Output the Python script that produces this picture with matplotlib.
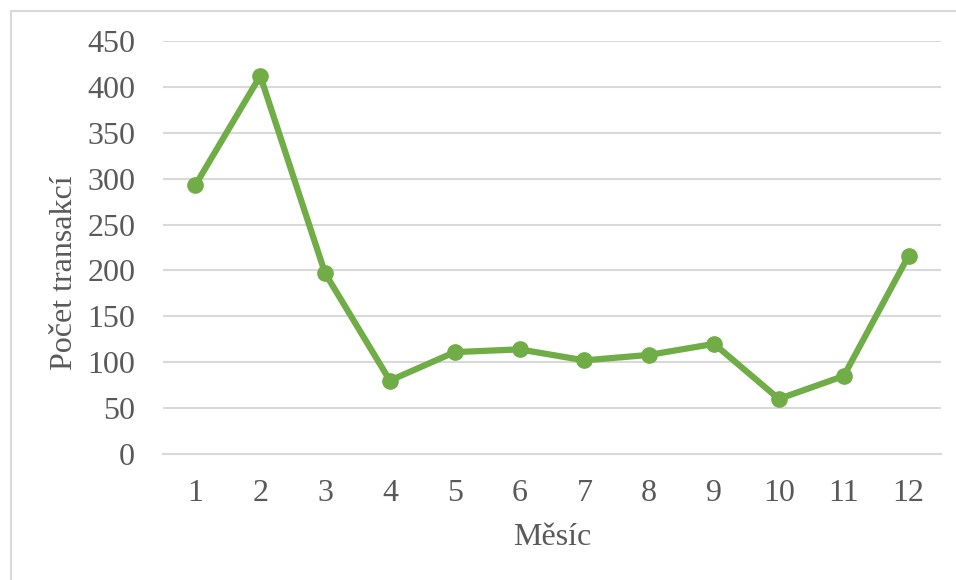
import matplotlib.pyplot as plt
from matplotlib.lines import Line2D

# Data
months = [1, 2, 3, 4, 5, 6, 7, 8, 9, 10, 11, 12]
transactions = [293, 412, 197, 80, 111, 114, 102, 108, 120, 60, 85, 216]
y_ticks = [0, 50, 100, 150, 200, 250, 300, 350, 400, 450]

plt.rcParams["font.family"] = ["Liberation Serif", "DejaVu Serif"]

W, H = 956, 580
fig = plt.figure(figsize=(W / 100, H / 100), dpi=100)
ax = fig.add_axes([163 / W, 1 - 454 / H, (941 - 163) / W, (454 - 41) / H])

grid_color = "#D9D9D9"
text_color = "#595959"
green = "#70AD47"

ax.plot(months, transactions, color=green, linewidth=4.5, marker="o",
        markersize=11, solid_capstyle="round", zorder=3)

ax.set_xlim(0.5, 12.5)
ax.set_ylim(0, 450)
ax.set_xticks(months)
ax.set_yticks(y_ticks)
ax.yaxis.grid(True, color=grid_color, linewidth=1.5)
ax.set_axisbelow(True)
for side in ["left", "right", "top"]:
    ax.spines[side].set_visible(False)
ax.spines["bottom"].set_color(grid_color)
ax.spines["bottom"].set_linewidth(1.5)
ax.tick_params(axis="both", length=0, labelsize=23, colors=text_color)
ax.tick_params(axis="x", pad=18)
ax.tick_params(axis="y", pad=20)

ax.set_xlabel("Měsíc", fontsize=23, color=text_color, labelpad=11)
ax.set_ylabel("Počet transakcí", fontsize=23, color=text_color)
ax.yaxis.set_label_coords(-0.108, 0.438)

# outer chart border (only left and top visible in the crop)
fig.add_artist(Line2D([10.5 / W, 10.5 / W], [0, 1 - 10.5 / H],
                      transform=fig.transFigure, color=grid_color, linewidth=1.5))
fig.add_artist(Line2D([10.5 / W, 1], [1 - 10.5 / H, 1 - 10.5 / H],
                      transform=fig.transFigure, color=grid_color, linewidth=1.5))

fig.savefig("out.png", dpi=100)
